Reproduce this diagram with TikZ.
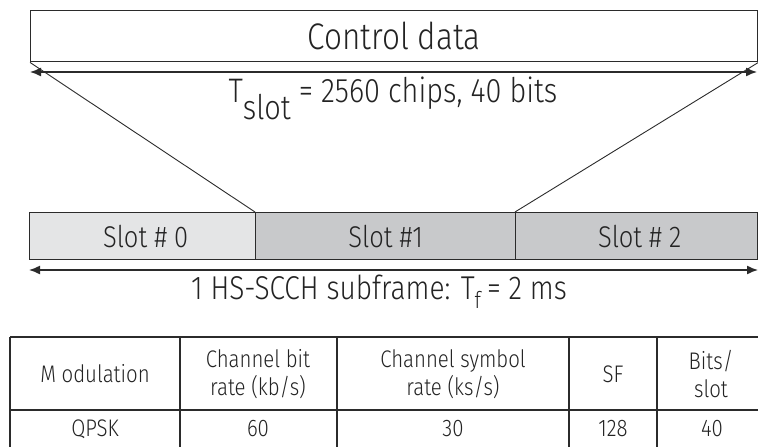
\documentclass[tikz,border=0pt]{standalone}
\usepackage{fontspec}
\setmainfont{Fira Sans Light}[FakeStretch=0.85]
\usetikzlibrary{arrows.meta}
\definecolor{ln}{HTML}{2B2B2B}
\definecolor{lite}{HTML}{E4E5E6}
\definecolor{darkf}{HTML}{C8C9CB}
\definecolor{txt}{HTML}{232323}
\tikzset{
  box/.style={draw=ln, line width=1.4pt, inner sep=0pt, anchor=north west, text=txt},
  thinline/.style={draw=ln, line width=0.9pt},
  dimarrow/.style={draw=ln, line width=1.4pt, {Latex[length=11pt,width=9pt]}-{Latex[length=11pt,width=9pt]}},
  tabline/.style={draw=ln, line width=1.2pt},
  lbl/.style={text=txt, inner sep=0pt, align=center},
}
\begin{document}
\begin{tikzpicture}[x=1pt,y=-1pt]
\useasboundingbox (0,0) rectangle (758,447);
% control data box
\node[box, minimum width=727pt, minimum height=51pt, font=\fontsize{37}{38}\selectfont] (ctrl) at (30,10) {Control data};
% slots
\node[box, fill=lite, minimum width=226pt, minimum height=47pt, font=\fontsize{30}{32}\selectfont] (s0) at (29,212) {\hspace{6pt}Slot \# 0};
\node[box, fill=darkf, minimum width=260pt, minimum height=47pt, font=\fontsize{30}{32}\selectfont] (s1) at (255,212) {Slot \#1};
\node[box, fill=darkf, minimum width=242pt, minimum height=47pt, font=\fontsize{30}{32}\selectfont] (s2) at (515,212) {\hspace{6pt}Slot \# 2};
% diagonals
\draw[thinline] (ctrl.south west) -- (s1.north west);
\draw[thinline] (ctrl.south east) -- (s2.north west);
% top dimension arrow
\coordinate (ta) at (30,72);
\coordinate (tb) at (757,72);
\draw[dimarrow] (ta) -- (tb);
\node[lbl, font=\fontsize{34}{36}\selectfont] (tslot) at (393,98) {T\raisebox{-0.5em}{slot} = 2560 chips, 40 bits};
% bottom dimension arrow
\coordinate (ba) at (29,270);
\coordinate (bb) at (758,270);
\draw[dimarrow] (ba) -- (bb);
\node[lbl, font=\fontsize{33}{36}\selectfont] (tf) at (379,292) {1 HS-SCCH subframe: T\textsubscript{f}\,= 2 ms};
% table
\draw[tabline] (10,337) -- (760,337);
\draw[tabline] (10,410) -- (760,410);
\foreach \x in {10,180,337,569,657} \draw[tabline] (\x,337) -- (\x,448);
\begin{scope}[font=\fontsize{24}{28}\selectfont]
\node[lbl] (h1) at (95,374) {M odulation};
\node[lbl] (h2) at (258,374) {Channel bit\\rate (kb/s)};
\node[lbl] (h3) at (453,374) {Channel symbol\\rate (ks/s)};
\node[lbl] (h4) at (613,374) {SF};
\node[lbl] (h5) at (711,374) {Bits/\\slot};
\node[lbl] (d1) at (95,429) {QPSK};
\node[lbl] (d2) at (258,429) {60};
\node[lbl] (d3) at (453,429) {30};
\node[lbl] (d4) at (613,429) {128};
\node[lbl] (d5) at (712,429) {40};
\end{scope}
\end{tikzpicture}
\end{document}
